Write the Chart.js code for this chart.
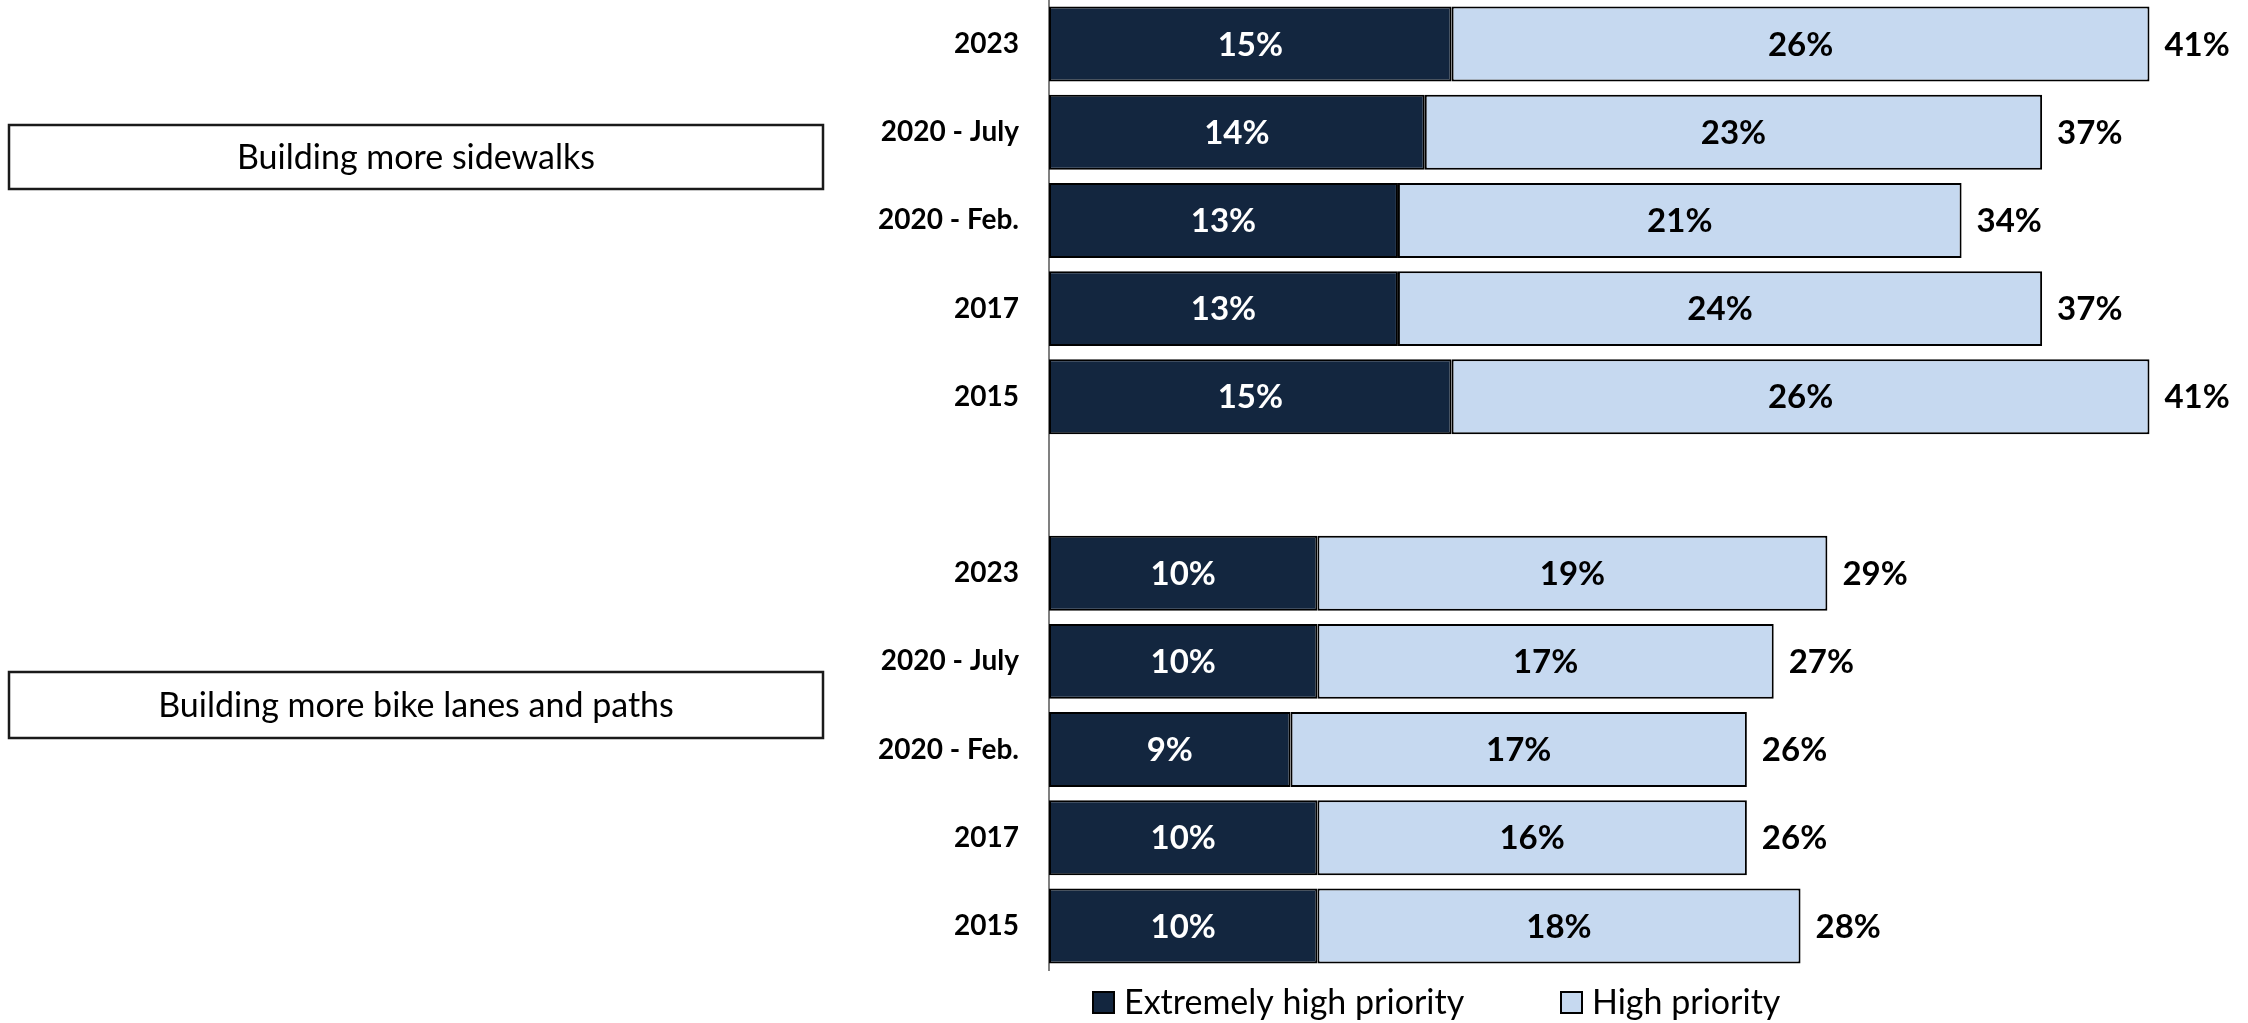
<!DOCTYPE html>
<html lang="en">
<head>
<meta charset="UTF-8">
<title>Priority: sidewalks and bike lanes</title>
<script src="https://cdn.jsdelivr.net/npm/chart.js"></script>
<style>
  html, body { margin: 0; padding: 0; background: #fff; }
  #wrap { position: relative; width: 2248px; height: 1023px; }
</style>
</head>
<body>
<div id="wrap"><canvas id="chart" width="2248" height="1023"></canvas></div>
<script>
// --- data ---
const years = ['2023', '2020 - July', '2020 - Feb.', '2017', '2015'];
const groupNames = ['Building more sidewalks', 'Building more bike lanes and paths'];
const seriesNames = ['Extremely high priority', 'High priority'];

const sidewalksExtreme = [15, 14, 13, 13, 15];
const sidewalksHigh    = [26, 23, 21, 24, 26];
const sidewalksTotal   = [41, 37, 34, 37, 41];

const bikeExtreme = [10, 10, 9, 10, 10];
const bikeHigh    = [19, 17, 17, 16, 18];
const bikeTotal   = [29, 27, 26, 26, 28];

const DARK = '#13263F';
const LIGHT = '#C6D9F0';
const FONT = 'Lato, "Liberation Sans", sans-serif';

// one empty row between the two groups
const labels  = years.concat([''], years);
const extreme = sidewalksExtreme.concat([null], bikeExtreme);
const high    = sidewalksHigh.concat([null], bikeHigh);
const totals  = sidewalksTotal.concat([null], bikeTotal);

// group boxes on the left (plain annotations)
const groupBoxes = [
  { text: groupNames[0], x: 9, y: 125, w: 814, h: 64 },
  { text: groupNames[1], x: 9, y: 672, w: 814, h: 66 }
];

const labelsPlugin = {
  id: 'barLabels',
  afterDatasetsDraw(chart) {
    const ctx = chart.ctx;
    const xs = chart.scales.x;
    ctx.save();
    ctx.font = 'bold 33px ' + FONT;
    ctx.textBaseline = 'middle';
    chart.data.datasets.forEach((ds, di) => {
      chart.getDatasetMeta(di).data.forEach((bar, i) => {
        if (ds.data[i] == null) return;
        ctx.fillStyle = di === 0 ? '#fff' : '#000';
        ctx.textAlign = 'center';
        ctx.fillText(ds.data[i] + '%', (bar.x + bar.base) / 2, bar.y + 1);
      });
    });
    // totals right of each bar
    const meta = chart.getDatasetMeta(1);
    ctx.fillStyle = '#000';
    ctx.textAlign = 'left';
    totals.forEach((t, i) => {
      if (t == null) return;
      ctx.fillText(t + '%', xs.getPixelForValue(t) + 15, meta.data[i].y + 1);
    });
    ctx.restore();
  },
  afterDraw(chart) {
    const ctx = chart.ctx;
    ctx.save();
    // boxes with the group names
    ctx.font = '34px ' + FONT;
    ctx.textAlign = 'center';
    ctx.textBaseline = 'middle';
    groupBoxes.forEach(b => {
      ctx.fillStyle = '#fff';
      ctx.fillRect(b.x, b.y, b.w, b.h);
      ctx.strokeStyle = '#1a1a1a';
      ctx.lineWidth = 2.5;
      ctx.strokeRect(b.x, b.y, b.w, b.h);
      ctx.fillStyle = '#000';
      ctx.fillText(b.text, b.x + b.w / 2, b.y + b.h / 2 + 1);
    });
    // legend
    const items = [
      { text: seriesNames[0], color: DARK, x: 1093 },
      { text: seriesNames[1], color: LIGHT, x: 1561 }
    ];
    ctx.font = '34px ' + FONT;
    ctx.textAlign = 'left';
    items.forEach(it => {
      ctx.fillStyle = it.color;
      ctx.fillRect(it.x, 992, 21, 21);
      ctx.strokeStyle = '#000';
      ctx.lineWidth = 2;
      ctx.strokeRect(it.x, 992, 21, 21);
      ctx.fillStyle = '#000';
      ctx.fillText(it.text, it.x + 31, 1003);
    });
    ctx.restore();
  }
};

new Chart(document.getElementById('chart'), {
  type: 'bar',
  data: {
    labels: labels,
    datasets: [
      {
        label: seriesNames[0],
        data: extreme,
        backgroundColor: DARK,
        borderColor: '#000',
        borderWidth: 2,
        borderSkipped: false
      },
      {
        label: seriesNames[1],
        data: high,
        backgroundColor: LIGHT,
        borderColor: '#000',
        borderWidth: 2,
        borderSkipped: false
      }
    ]
  },
  options: {
    indexAxis: 'y',
    responsive: false,
    animation: false,
    devicePixelRatio: 1,
    categoryPercentage: 1,
    barPercentage: 0.85,
    layout: { padding: { top: 0, right: 18, bottom: 53, left: 0 } },
    plugins: {
      legend: { display: false },
      tooltip: { enabled: false }
    },
    scales: {
      x: {
        stacked: true,
        min: 0,
        max: 44,
        display: false
      },
      y: {
        stacked: true,
        grid: { display: false, drawTicks: false },
        border: { display: true, color: '#808080', width: 2 },
        ticks: {
          color: '#000',
          padding: 30,
          font: { family: FONT, size: 28, weight: 'bold' }
        },
        afterFit(scale) {
          scale.width = 1049;
          // labels sit in band centres, so no extra room above/below
          scale.paddingTop = 0;
          scale.paddingBottom = 0;
        }
      }
    }
  },
  plugins: [labelsPlugin]
});
</script>
</body>
</html>
